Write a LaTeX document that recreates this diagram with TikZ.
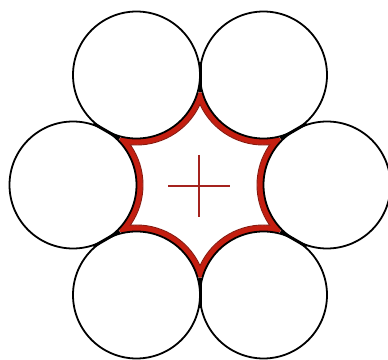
\documentclass[tikz,border=0pt]{standalone}
\usetikzlibrary{calc}
\definecolor{bandred}{RGB}{196,30,16}
\definecolor{banddark}{RGB}{135,25,15}
\definecolor{crossred}{RGB}{165,35,30}
\begin{document}
\begin{tikzpicture}[x=1pt,y=1pt,
  wire/.style={draw=black,line width=1.8pt},
  joint/.style={draw=black,line width=3pt},
  bandfill/.style={fill=bandred},
  bandedge/.style={draw=banddark,line width=0.9pt,fill=white},
  crossline/.style={draw=crossred,line width=2pt}]
\useasboundingbox (0,0) rectangle (388,359);
\coordinate (O) at (200,174);
\def\R{127}
\def\r{63.5}
\foreach \k in {0,...,5} \coordinate (c\k) at ($(O)+(60*\k:\R pt)$);
% tips of the red star and outer ends of the joints
\foreach \k in {0,...,5} {
  \coordinate (t\k) at ($(O)+(60*\k+30:93pt)$);
  \coordinate (j\k) at ($(O)+(60*\k+30:123pt)$);
}
\coordinate (bl) at ($(O)+(-150,-150)$);
\coordinate (tr) at ($(O)+(150,150)$);
% red band: gap between the circles, cut at the tips
\begin{scope}
  \clip (t0) -- (t1) -- (t2) -- (t3) -- (t4) -- (t5) -- cycle;
  \path[bandfill,even odd rule] (bl) rectangle (tr)
    (c0) circle[radius=\r pt] (c1) circle[radius=\r pt] (c2) circle[radius=\r pt]
    (c3) circle[radius=\r pt] (c4) circle[radius=\r pt] (c5) circle[radius=\r pt];
\end{scope}
% white inner star
\def\a{35.1}
\def\rho{70}
\path[bandedge] ($(O)+(30:80.5pt)$)
  arc[start angle=180-\a,end angle=180+\a,radius=\rho pt]
  arc[start angle=120-\a,end angle=120+\a,radius=\rho pt]
  arc[start angle=60-\a,end angle=60+\a,radius=\rho pt]
  arc[start angle=-\a,end angle=\a,radius=\rho pt]
  arc[start angle=300-\a,end angle=300+\a,radius=\rho pt]
  arc[start angle=240-\a,end angle=240+\a,radius=\rho pt] -- cycle;
% the six circles
\foreach \k in {0,...,5} \path[wire] (c\k) circle[radius=\r pt];
% joints between neighbouring circles
\foreach \k in {0,...,5} \path[joint] (t\k) -- (j\k);
% centre cross
\coordinate (X) at (199,173);
\coordinate (hl) at ($(X)+(-31,0)$);
\coordinate (hr) at ($(X)+(31,0)$);
\coordinate (vt) at ($(X)+(0,31)$);
\coordinate (vb) at ($(X)+(0,-31)$);
\path[crossline] (hl) -- (hr);
\path[crossline] (vt) -- (vb);
\end{tikzpicture}
\end{document}
